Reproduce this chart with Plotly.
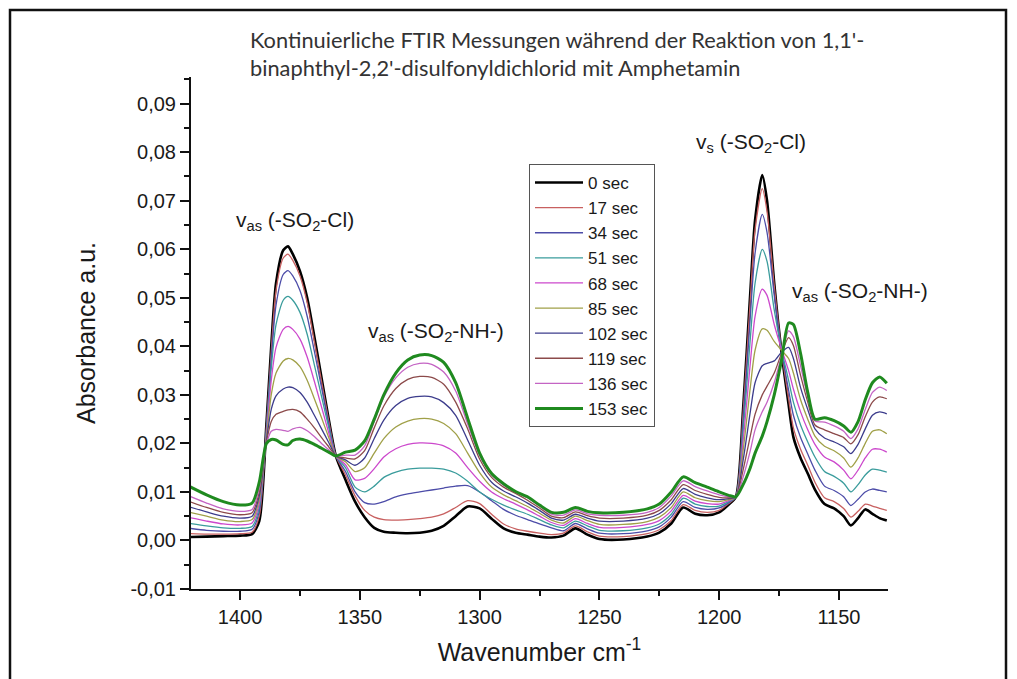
import plotly.graph_objects as go

# ---------------- data ----------------
wavenumber = [1421, 1414, 1407, 1400, 1395,
              1392, 1389, 1387, 1385, 1382, 1380, 1378, 1375, 1372, 1369, 1366, 1363, 1360,
              1356, 1352, 1348, 1344, 1340, 1335, 1330, 1325, 1320, 1315, 1310, 1305, 1300, 1295, 1290, 1285, 1280, 1275, 1270,
              1265, 1260, 1255, 1250, 1240, 1230, 1225, 1220, 1215, 1210, 1205, 1200, 1196,
              1193, 1190, 1187, 1185, 1182, 1180, 1177, 1174, 1171, 1169, 1166, 1163, 1160, 1156, 1152, 1148, 1145, 1142, 1139, 1136, 1133, 1130]

series_names = ["0 sec", "17 sec", "34 sec", "51 sec", "68 sec",
                "85 sec", "102 sec", "119 sec", "136 sec", "153 sec"]

abs_0s = [0.0007, 0.0008, 0.0009, 0.0010, 0.0013,
          0.0040, 0.0240, 0.0400, 0.0530, 0.0598, 0.0606, 0.0590, 0.0555, 0.0500, 0.0420, 0.0335, 0.0250, 0.0174,
          0.0125, 0.0080, 0.0048, 0.0026, 0.0018, 0.0016, 0.0015, 0.0016, 0.0020, 0.0030, 0.0050, 0.0070, 0.0066, 0.0045, 0.0025, 0.0016, 0.0012, 0.0008, 0.0006,
          0.0010, 0.0025, 0.0012, 0.0003, 0.0002, 0.0008, 0.0016, 0.0035, 0.0068, 0.0055, 0.0052, 0.0058, 0.0074,
          0.0090, 0.0270, 0.0510, 0.0660, 0.0753, 0.0700, 0.0530, 0.0390, 0.0280, 0.0213, 0.0170, 0.0138, 0.0105, 0.0075, 0.0066, 0.0050, 0.0031, 0.0046, 0.0064, 0.0055, 0.0046, 0.0041]

abs_17s = [0.0014, 0.0013, 0.0013, 0.0014, 0.0017,
           0.0050, 0.0235, 0.0390, 0.0515, 0.0582, 0.0590, 0.0577, 0.0545, 0.0490, 0.0410, 0.0328, 0.0247, 0.0174,
           0.0135, 0.0092, 0.0062, 0.0048, 0.0043, 0.0042, 0.0043, 0.0045, 0.0048, 0.0055, 0.0068, 0.0082, 0.0076, 0.0054, 0.0034, 0.0024, 0.0019, 0.0015, 0.0012,
           0.0015, 0.0030, 0.0018, 0.0009, 0.0008, 0.0014, 0.0022, 0.0041, 0.0074, 0.0062, 0.0058, 0.0062, 0.0076,
           0.0090, 0.0262, 0.0495, 0.0640, 0.0725, 0.0678, 0.0525, 0.0392, 0.0292, 0.0232, 0.0188, 0.0155, 0.0120, 0.0088, 0.0080, 0.0066, 0.0048, 0.0060, 0.0075, 0.0071, 0.0066, 0.0062]

abs_34s = [0.0025, 0.0021, 0.0019, 0.0019, 0.0023,
           0.0060, 0.0230, 0.0375, 0.0485, 0.0548, 0.0556, 0.0545, 0.0515, 0.0462, 0.0390, 0.0315, 0.0240, 0.0174,
           0.0142, 0.0100, 0.0078, 0.0075, 0.0080, 0.0090, 0.0096, 0.0100, 0.0104, 0.0108, 0.0112, 0.0113, 0.0100, 0.0082, 0.0064, 0.0052, 0.0043, 0.0034, 0.0026,
           0.0020, 0.0035, 0.0024, 0.0015, 0.0014, 0.0020, 0.0028, 0.0048, 0.0080, 0.0068, 0.0064, 0.0067, 0.0078,
           0.0090, 0.0245, 0.0460, 0.0592, 0.0672, 0.0635, 0.0505, 0.0393, 0.0310, 0.0258, 0.0212, 0.0178, 0.0145, 0.0112, 0.0103, 0.0090, 0.0072, 0.0085, 0.0100, 0.0106, 0.0103, 0.0100]

abs_51s = [0.0035, 0.0030, 0.0026, 0.0025, 0.0029,
           0.0068, 0.0225, 0.0355, 0.0445, 0.0495, 0.0503, 0.0495, 0.0470, 0.0425, 0.0362, 0.0297, 0.0233, 0.0174,
           0.0150, 0.0110, 0.0100, 0.0112, 0.0130, 0.0141, 0.0147, 0.0149, 0.0149, 0.0147, 0.0139, 0.0122, 0.0100, 0.0085, 0.0073, 0.0063, 0.0054, 0.0043, 0.0032,
           0.0026, 0.0040, 0.0030, 0.0021, 0.0020, 0.0026, 0.0034, 0.0054, 0.0087, 0.0075, 0.0070, 0.0071, 0.0080,
           0.0090, 0.0225, 0.0415, 0.0530, 0.0600, 0.0575, 0.0475, 0.0395, 0.0330, 0.0285, 0.0238, 0.0203, 0.0172, 0.0142, 0.0132, 0.0118, 0.0100, 0.0115, 0.0135, 0.0147, 0.0145, 0.0141]

abs_68s = [0.0047, 0.0040, 0.0034, 0.0032, 0.0036,
           0.0076, 0.0218, 0.0330, 0.0398, 0.0435, 0.0441, 0.0435, 0.0415, 0.0378, 0.0328, 0.0275, 0.0222, 0.0174,
           0.0156, 0.0125, 0.0128, 0.0148, 0.0172, 0.0189, 0.0198, 0.0201, 0.0200, 0.0195, 0.0180, 0.0150, 0.0122, 0.0100, 0.0086, 0.0075, 0.0063, 0.0050, 0.0037,
           0.0031, 0.0045, 0.0035, 0.0027, 0.0027, 0.0033, 0.0041, 0.0061, 0.0093, 0.0081, 0.0076, 0.0075, 0.0082,
           0.0090, 0.0205, 0.0365, 0.0462, 0.0518, 0.0505, 0.0445, 0.0395, 0.0350, 0.0312, 0.0265, 0.0228, 0.0198, 0.0172, 0.0162, 0.0145, 0.0127, 0.0145, 0.0170, 0.0188, 0.0188, 0.0182]

abs_85s = [0.0058, 0.0050, 0.0042, 0.0039, 0.0043,
           0.0084, 0.0212, 0.0300, 0.0345, 0.0370, 0.0375, 0.0372, 0.0358, 0.0330, 0.0292, 0.0253, 0.0212, 0.0174,
           0.0162, 0.0142, 0.0150, 0.0180, 0.0210, 0.0234, 0.0246, 0.0251, 0.0250, 0.0241, 0.0220, 0.0180, 0.0140, 0.0110, 0.0094, 0.0082, 0.0070, 0.0056, 0.0042,
           0.0036, 0.0050, 0.0041, 0.0033, 0.0033, 0.0039, 0.0048, 0.0068, 0.0100, 0.0088, 0.0082, 0.0080, 0.0084,
           0.0090, 0.0185, 0.0315, 0.0392, 0.0436, 0.0433, 0.0410, 0.0392, 0.0375, 0.0345, 0.0290, 0.0250, 0.0215, 0.0194, 0.0185, 0.0170, 0.0151, 0.0170, 0.0200, 0.0225, 0.0228, 0.0220]

abs_102s = [0.0069, 0.0059, 0.0050, 0.0046, 0.0050,
            0.0092, 0.0206, 0.0270, 0.0298, 0.0312, 0.0316, 0.0315, 0.0305, 0.0285, 0.0258, 0.0230, 0.0202, 0.0174,
            0.0166, 0.0155, 0.0170, 0.0210, 0.0248, 0.0278, 0.0293, 0.0297, 0.0296, 0.0284, 0.0258, 0.0207, 0.0155, 0.0120, 0.0102, 0.0090, 0.0077, 0.0062, 0.0046,
            0.0042, 0.0054, 0.0046, 0.0040, 0.0040, 0.0046, 0.0055, 0.0076, 0.0107, 0.0095, 0.0088, 0.0084, 0.0086,
            0.0090, 0.0165, 0.0265, 0.0325, 0.0360, 0.0365, 0.0370, 0.0388, 0.0398, 0.0375, 0.0315, 0.0270, 0.0230, 0.0211, 0.0203, 0.0193, 0.0179, 0.0198, 0.0230, 0.0258, 0.0265, 0.0261]

abs_119s = [0.0080, 0.0068, 0.0058, 0.0053, 0.0057,
            0.0100, 0.0202, 0.0245, 0.0260, 0.0266, 0.0269, 0.0270, 0.0265, 0.0250, 0.0232, 0.0212, 0.0193, 0.0174,
            0.0170, 0.0168, 0.0185, 0.0232, 0.0277, 0.0313, 0.0332, 0.0338, 0.0336, 0.0322, 0.0285, 0.0230, 0.0168, 0.0130, 0.0110, 0.0097, 0.0083, 0.0067, 0.0050,
            0.0047, 0.0059, 0.0051, 0.0046, 0.0046, 0.0052, 0.0062, 0.0084, 0.0115, 0.0103, 0.0095, 0.0089, 0.0088,
            0.0090, 0.0145, 0.0215, 0.0260, 0.0300, 0.0318, 0.0345, 0.0385, 0.0418, 0.0402, 0.0340, 0.0285, 0.0238, 0.0228, 0.0220, 0.0212, 0.0199, 0.0218, 0.0255, 0.0285, 0.0296, 0.0292]

abs_136s = [0.0091, 0.0077, 0.0065, 0.0060, 0.0064,
            0.0108, 0.0198, 0.0225, 0.0229, 0.0227, 0.0225, 0.0230, 0.0233, 0.0226, 0.0214, 0.0200, 0.0187, 0.0174,
            0.0176, 0.0176, 0.0195, 0.0245, 0.0295, 0.0335, 0.0357, 0.0365, 0.0363, 0.0347, 0.0308, 0.0240, 0.0175, 0.0135, 0.0114, 0.0101, 0.0088, 0.0071, 0.0054,
            0.0052, 0.0063, 0.0055, 0.0052, 0.0052, 0.0058, 0.0068, 0.0092, 0.0123, 0.0111, 0.0102, 0.0094, 0.0090,
            0.0090, 0.0130, 0.0185, 0.0228, 0.0265, 0.0285, 0.0325, 0.0380, 0.0432, 0.0420, 0.0360, 0.0295, 0.0246, 0.0244, 0.0236, 0.0225, 0.0210, 0.0230, 0.0270, 0.0305, 0.0316, 0.0309]

abs_153s = [0.0111, 0.0094, 0.0080, 0.0073, 0.0077,
            0.0120, 0.0200, 0.0208, 0.0207, 0.0198, 0.0197, 0.0206, 0.0209, 0.0205, 0.0198, 0.0190, 0.0182, 0.0174,
            0.0182, 0.0186, 0.0205, 0.0250, 0.0300, 0.0345, 0.0372, 0.0382, 0.0381, 0.0367, 0.0325, 0.0252, 0.0180, 0.0138, 0.0117, 0.0101, 0.0090, 0.0073, 0.0058,
            0.0058, 0.0068, 0.0060, 0.0057, 0.0058, 0.0065, 0.0075, 0.0100, 0.0131, 0.0119, 0.0110, 0.0100, 0.0093,
            0.0090, 0.0115, 0.0150, 0.0180, 0.0215, 0.0245, 0.0300, 0.0370, 0.0448, 0.0445, 0.0385, 0.0305, 0.0250, 0.0253, 0.0247, 0.0236, 0.0223, 0.0245, 0.0290, 0.0325, 0.0337, 0.0324]

all_series = [abs_0s, abs_17s, abs_34s, abs_51s, abs_68s,
              abs_85s, abs_102s, abs_119s, abs_136s, abs_153s]

x_tick_vals = [1400, 1350, 1300, 1250, 1200, 1150]
x_tick_text = ["1400", "1350", "1300", "1250", "1200", "1150"]
x_minor_vals = [1375, 1325, 1275, 1225, 1175]
y_tick_vals = [-0.01, 0.00, 0.01, 0.02, 0.03, 0.04, 0.05, 0.06, 0.07, 0.08, 0.09]
y_tick_text = ["-0,01", "0,00", "0,01", "0,02", "0,03", "0,04", "0,05", "0,06", "0,07", "0,08", "0,09"]
y_minor_vals = [-0.005, 0.005, 0.015, 0.025, 0.035, 0.045, 0.055, 0.065, 0.075, 0.085, 0.095]

title_text = ("Kontinuierliche FTIR Messungen während der Reaktion von 1,1'-<br>"
              "binaphthyl-2,2'-disulfonyldichlorid mit Amphetamin")
peak_labels = ["v<sub>as</sub> (-SO<sub>2</sub>-Cl)",
               "v<sub>as</sub> (-SO<sub>2</sub>-NH-)",
               "v<sub>s</sub> (-SO<sub>2</sub>-Cl)",
               "v<sub>as</sub> (-SO<sub>2</sub>-NH-)"]

# ---------------- styling ----------------
colors = ["#000000", "#c86060", "#4c4ca8", "#3a9c9c", "#cc48cc",
          "#a0a048", "#3c3c8c", "#8c4a4a", "#c464c4", "#1f8a1f"]
widths = [2.6, 1.3, 1.3, 1.3, 1.3, 1.3, 1.3, 1.3, 1.3, 3.0]

fig = go.Figure()
for name, vals, col, w in zip(series_names, all_series, colors, widths):
    fig.add_trace(go.Scatter(
        x=wavenumber, y=vals, name=name, mode="lines",
        line=dict(color=col, width=w, shape="spline", smoothing=0.7),
    ))

FONT = "Liberation Sans, Arial, sans-serif"

# plot area: x 191..888 px, y 77..589 px
L, R, T, B = 191, 129, 77, 90
W, H = 1017, 679
pw, ph = W - L - R, H - T - B


def px(xp):
    return (xp - L) / pw


def py(yp):
    return (H - B - yp) / ph


annos_pos = [(295, 221), (436, 332), (751, 143), (860, 292)]
annotations = []
for txt, (ax_, ay_) in zip(peak_labels, annos_pos):
    annotations.append(dict(
        text=txt, xref="paper", yref="paper", x=px(ax_), y=py(ay_),
        xanchor="center", yanchor="middle", showarrow=False,
        font=dict(family=FONT, size=21, color="#1a1a1a"),
    ))

fig.update_layout(
    width=W, height=H,
    margin=dict(l=L, r=R, t=T, b=B, pad=0),
    paper_bgcolor="white", plot_bgcolor="white",
    title=dict(
        text=title_text, xref="paper", x=px(250), xanchor="left",
        yref="container", y=1 - 48 / H, yanchor="top",
        font=dict(family="Lato, Carlito, Calibri, sans-serif", size=21.8, color="#333333"),
    ),
    showlegend=True,
    legend=dict(
        x=px(529), y=py(164), xanchor="left", yanchor="top",
        bgcolor="white", bordercolor="#555555", borderwidth=1,
        font=dict(family=FONT, size=17, color="#1a1a1a"),
        tracegroupgap=0, itemwidth=48,
    ),
    annotations=annotations,
    xaxis=dict(
        range=[1420.5, 1129.5], autorange=False,
        tickmode="array", tickvals=x_tick_vals, ticktext=x_tick_text,
        ticks="outside", ticklen=9, tickwidth=1.5, tickcolor="#111",
        minor=dict(tickmode="array", tickvals=x_minor_vals, ticks="outside",
                   ticklen=5, tickwidth=1.5, tickcolor="#111", showgrid=False),
        showline=True, linecolor="#111", linewidth=2, mirror=False,
        showgrid=False, zeroline=False,
        tickfont=dict(family=FONT, size=20, color="#1a1a1a"),
        title=dict(text="Wavenumber cm<sup>-1</sup>", standoff=16,
                   font=dict(family=FONT, size=25, color="#1a1a1a")),
        automargin=False,
    ),
    yaxis=dict(
        range=[-0.01, 0.0955], autorange=False,
        tickmode="array", tickvals=y_tick_vals, ticktext=y_tick_text,
        ticks="outside", ticklen=9, tickwidth=1.5, tickcolor="#111",
        minor=dict(tickmode="array", tickvals=y_minor_vals, ticks="outside",
                   ticklen=5, tickwidth=1.5, tickcolor="#111", showgrid=False),
        showline=True, linecolor="#111", linewidth=2, mirror=False,
        showgrid=False, zeroline=False,
        tickfont=dict(family=FONT, size=20, color="#1a1a1a"),
        title=dict(text="Absorbance a.u.", standoff=28,
                   font=dict(family=FONT, size=25, color="#1a1a1a")),
        automargin=False,
    ),
    shapes=[dict(
        type="rect", xref="paper", yref="paper",
        x0=px(10), x1=px(1006), y0=py(700), y1=py(10),
        line=dict(color="#111111", width=2.5), fillcolor="rgba(0,0,0,0)",
        layer="above",
    )],
)

fig.write_html("out.html", include_plotlyjs=True, full_html=True,
               config={"displayModeBar": False},
               post_script="document.body.style.margin='0';document.body.style.overflow='hidden';")
